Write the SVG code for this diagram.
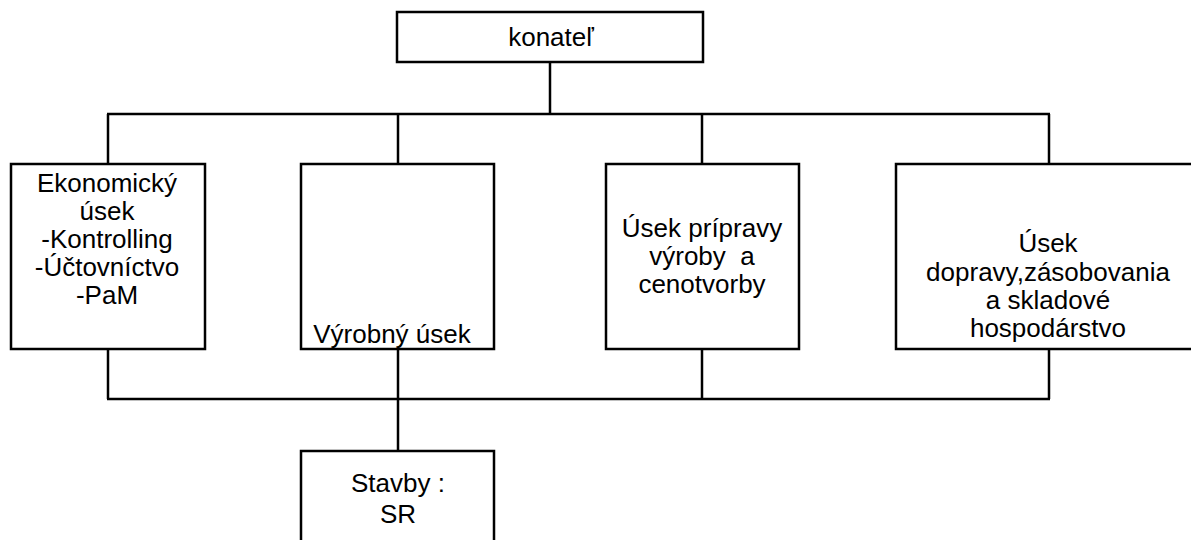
<svg xmlns="http://www.w3.org/2000/svg" width="1191" height="540" viewBox="0 0 1191 540">
<style>
rect.box{fill:#fff;stroke:#000;stroke-width:2.5}
.conn line{stroke:#000;stroke-width:2.5}
text{font-family:"Liberation Sans",Arial,sans-serif;font-size:26px;fill:#000;text-anchor:middle}
</style>
<rect width="1191" height="540" fill="#fff"/>
<g class="conn" id="connectors">
<line x1="550" y1="62" x2="550" y2="114"/>
<line x1="107" y1="114" x2="1050" y2="114"/>
<line x1="108" y1="114" x2="108" y2="164"/>
<line x1="398" y1="114" x2="398" y2="164"/>
<line x1="702" y1="114" x2="702" y2="164"/>
<line x1="1049" y1="114" x2="1049" y2="164"/>
<line x1="108" y1="349" x2="108" y2="399"/>
<line x1="398" y1="349" x2="398" y2="451"/>
<line x1="702" y1="349" x2="702" y2="399"/>
<line x1="1049" y1="349" x2="1049" y2="399"/>
<line x1="107" y1="399" x2="1050" y2="399"/>
</g>
<g id="konatel">
<rect class="box" x="397" y="12" width="306" height="50"/>
<text x="551" y="46">konateľ</text>
</g>
<g id="ekonomicky">
<rect class="box" x="11" y="164" width="194" height="185"/>
<text x="107" y="192">Ekonomický</text>
<text x="107" y="220">úsek</text>
<text x="107" y="248">-Kontrolling</text>
<text x="107" y="276">-Účtovníctvo</text>
<text x="107" y="304">-PaM</text>
</g>
<g id="vyrobny">
<rect class="box" x="301" y="164" width="193" height="185"/>
<text x="392" y="343">Výrobný úsek</text>
</g>
<g id="priprava">
<rect class="box" x="606" y="164" width="193" height="185"/>
<text x="702" y="237">Úsek prípravy</text>
<text x="702" y="265" xml:space="preserve">výroby  a</text>
<text x="702" y="293">cenotvorby</text>
</g>
<g id="doprava">
<rect class="box" x="896" y="164" width="300" height="185"/>
<text x="1048" y="252">Úsek</text>
<text x="1048" y="281">dopravy,zásobovania</text>
<text x="1048" y="309">a skladové</text>
<text x="1048" y="337">hospodárstvo</text>
</g>
<g id="stavby">
<rect class="box" x="301" y="451" width="193" height="110"/>
<text x="398" y="492">Stavby :</text>
<text x="398" y="523">SR</text>
</g>
</svg>
